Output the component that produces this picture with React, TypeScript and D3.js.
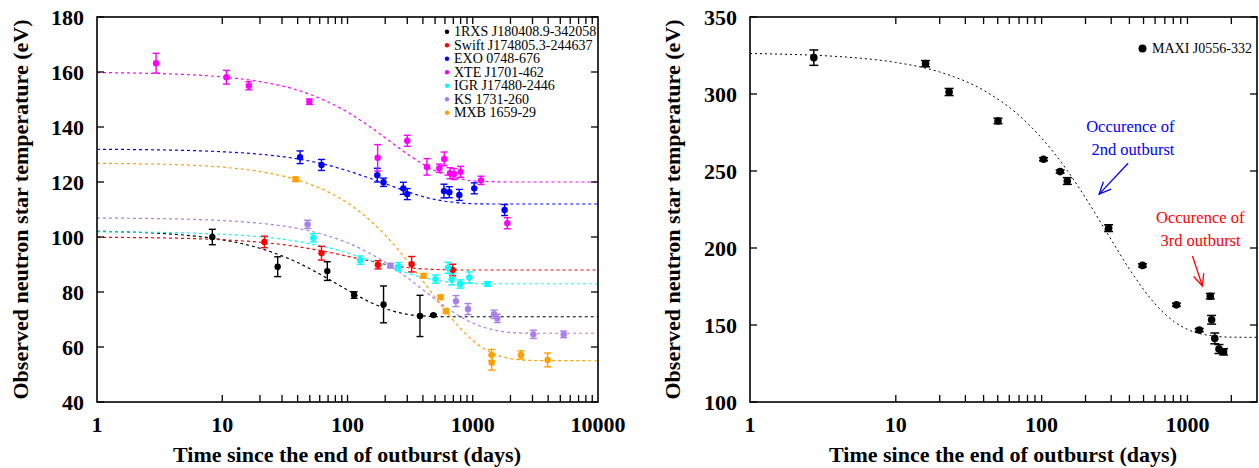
import React from "react";
import * as d3 from "d3";

// ---------- Left panel data ----------
const leftNames = [
  "1RXS J180408.9-342058",
  "Swift J174805.3-244637",
  "EXO 0748-676",
  "XTE J1701-462",
  "IGR J17480-2446",
  "KS 1731-260",
  "MXB 1659-29",
];
const leftColors = ["#000000", "#ff0000", "#0000ff", "#ff00ff", "#00ffff", "#a97ff0", "#ff9f00"];

const rxsTime = [8.33, 27.7, 69, 113, 194, 379, 485];
const rxsTemp = [100, 89.2, 87.6, 78.9, 75.5, 71.3, 71.6];
const rxsErr = [2.8, 3.6, 3.4, 1.2, 6.7, 7.5, 0.3];

const swiftTime = [21.7, 62, 175, 325, 691];
const swiftTemp = [98.2, 94.1, 89.9, 90.1, 88];
const swiftErr = [2.1, 2.5, 1.5, 2.8, 2.1];

const exoTime = [41.8, 62, 173, 194, 279, 300, 589, 650, 781, 1028, 1796];
const exoTemp = [129, 126.2, 122.5, 119.9, 117.7, 115.6, 116.7, 116.3, 115.3, 117.7, 109.8];
const exoErr = [2.3, 2, 2.5, 1.5, 2.2, 2, 2.5, 2, 2, 2, 2];

const xteTime = [2.96, 10.8, 16.3, 49.6, 174, 300, 431, 541, 592, 658, 708, 800, 1164, 1888];
const xteTemp = [163.2, 158.1, 155, 149.2, 128.8, 135, 125.5, 125, 128.4, 123.2, 122.9, 123.7, 120.6, 105];
const xteErr = [3.6, 2.5, 1.5, 1, 4.8, 2, 3, 1.5, 2.5, 2, 2, 2, 1.5, 2];

const igrTime = [53.3, 126, 255, 503, 634, 678, 791, 939, 1309];
const igrTemp = [99.7, 91.6, 89.2, 84.7, 88.8, 84.6, 82.9, 85.3, 82.9];
const igrErr = [1.5, 1.5, 1.5, 1.5, 2, 2, 1.5, 2, 0.8];

const ksTime = [48, 220, 734, 916, 1479, 1571, 3046, 5320];
const ksTemp = [104.6, 89.6, 76.7, 73.8, 71.9, 70.4, 64.6, 64.6];
const ksErr = [1.5, 0.8, 2, 2, 1.5, 1.5, 1.5, 1.2];

const mxbTime = [38.5, 405, 554, 611, 1416, 1416, 2427, 3963];
const mxbTemp = [121, 85.9, 78.1, 73, 57.1, 54.3, 57.1, 55.3];
const mxbErr = [0.8, 0.8, 0.8, 0.8, 2, 2.7, 1.5, 2.5];

// fitted cooling curves
const leftFitTime = [1, 5, 10, 20, 40, 70, 100, 150, 200, 300, 400, 600, 800, 1000, 1500, 2000, 3000, 10000];
const rxsFit = [102.1, 100.7, 99.0, 95.9, 90.7, 84.8, 80.7, 76.4, 74.0, 71.9, 71.3, 71.0, 71.0, 71.0, 71.0, 71.0, 71.0, 71.0];
const swiftFit = [99.9, 99.5, 99.0, 98.1, 96.5, 94.5, 93.0, 91.3, 90.1, 88.9, 88.4, 88.1, 88.0, 88, 88, 88, 88, 88];
const exoFit = [131.9, 131.5, 131.0, 130.1, 128.4, 126.1, 124.1, 121.4, 119.4, 116.5, 114.7, 113.0, 112.4, 112.1, 112, 112, 112, 112];
const xteFit = [159.8, 159.1, 158.2, 156.5, 153.4, 149.1, 145.4, 140.2, 136.1, 130.2, 126.5, 122.6, 121.1, 120.4, 120.1, 120, 120, 120];
const igrFit = [101.9, 101.5, 101.0, 100.1, 98.4, 96.1, 94.2, 91.6, 89.6, 86.9, 85.3, 83.8, 83.3, 83.1, 83.0, 83, 83, 83];
const ksFit = [106.9, 106.5, 106.0, 105.0, 103.1, 100.4, 97.9, 94.1, 90.8, 85.2, 80.8, 74.7, 71.0, 68.7, 66.1, 65.3, 65.0, 65];
const mxbFit = [126.8, 126.2, 125.4, 123.8, 120.7, 116.4, 112.4, 106.2, 100.7, 91.4, 84.0, 73.4, 66.7, 62.4, 57.4, 55.8, 55.1, 55];

const leftTimes = [rxsTime, swiftTime, exoTime, xteTime, igrTime, ksTime, mxbTime];
const leftTemps = [rxsTemp, swiftTemp, exoTemp, xteTemp, igrTemp, ksTemp, mxbTemp];
const leftErrs = [rxsErr, swiftErr, exoErr, xteErr, igrErr, ksErr, mxbErr];
const leftFits = [rxsFit, swiftFit, exoFit, xteFit, igrFit, ksFit, mxbFit];

const leftXTickLabels = ["1", "10", "100", "1000", "10000"];
const leftYTicks = [40, 60, 80, 100, 120, 140, 160, 180];

// ---------- Right panel data ----------
const maxiName = "MAXI J0556-332";
const maxiTime = [2.74, 16, 23.2, 50.2, 103, 134, 150, 288, 492, 840, 1205, 1435, 1465, 1540, 1645, 1770];
const maxiTemp = [323.6, 319.7, 301.3, 282.5, 257.6, 249.6, 243.5, 212.9, 188.7, 163.1, 146.7, 168.7, 153.4, 141.3, 134.4, 132.6];
const maxiErr = [5, 2, 2.3, 1.8, 1, 1, 2.2, 2.2, 1, 1, 1, 1.8, 2.8, 3.5, 2.9, 2];
const maxiFitTime = [1, 3, 5, 10, 20, 40, 70, 100, 150, 200, 300, 400, 600, 800, 1000, 1500, 2000, 3000];
const maxiFit = [326.3, 325.0, 323.7, 320.5, 314.3, 302.4, 286.1, 271.4, 250.3, 232.6, 205.4, 186.3, 163.7, 152.6, 147.2, 142.9, 142.1, 142];
const rightXTickLabels = ["1", "10", "100", "1000"];
const rightYTicks = [100, 150, 200, 250, 300, 350];

const annotSecond = ["Occurence of", "2nd outburst"];
const annotThird = ["Occurence of", "3rd outburst"];

const xTitle = "Time since the end of outburst (days)";
const yTitle = "Observed neutron star temperature (eV)";

const FONT = "'Liberation Serif', 'Times New Roman', Times, serif";

function minorTicks(maxT: number) {
  const out: number[] = [];
  for (let p = 10; p < maxT; p *= 10) {
    for (let k = 1; k <= 9; k++) {
      const v = k * p;
      if (v < maxT) out.push(v);
    }
  }
  return out;
}

function Frame({ x, y, xTickVals, yTickVals, tick }: any) {
  const [x0, x1] = x.range();
  const [y1, y0] = y.range();
  return (
    <g stroke="#000" strokeWidth={1.3}>
      {xTickVals.map((t: number, i: number) => (
        <g key={"xt" + i}>
          <line x1={x(t)} x2={x(t)} y1={y1} y2={y1 - tick} />
          <line x1={x(t)} x2={x(t)} y1={y0} y2={y0 + tick} />
        </g>
      ))}
      {yTickVals.map((v: number, i: number) => (
        <g key={"yt" + i}>
          <line x1={x0} x2={x0 + tick} y1={y(v)} y2={y(v)} />
          <line x1={x1} x2={x1 - tick} y1={y(v)} y2={y(v)} />
        </g>
      ))}
      <rect x={x0} y={y0} width={x1 - x0} height={y1 - y0} fill="none" strokeWidth={1.6} />
    </g>
  );
}

function Points({ x, y, times, temps, errs, color, r, cap, sw }: any) {
  return (
    <g>
      {times.map((t: number, i: number) => {
        const cx = x(t);
        const top = y(temps[i] + errs[i]);
        const bot = y(temps[i] - errs[i]);
        return (
          <g key={i} stroke={color} strokeWidth={sw}>
            <line x1={cx} x2={cx} y1={top} y2={bot} />
            <line x1={cx - cap} x2={cx + cap} y1={top} y2={top} />
            <line x1={cx - cap} x2={cx + cap} y1={bot} y2={bot} />
            <circle cx={cx} cy={y(temps[i])} r={r} fill={color} stroke="none" />
          </g>
        );
      })}
    </g>
  );
}

export default function App() {
  // left panel
  const lx = d3.scaleLog().domain([1, 10000]).range([97, 598]);
  const ly = d3.scaleLinear().domain([40, 180]).range([402, 17]);
  // right panel
  const rx = d3.scaleLog().domain([1, 3000]).range([750, 1257]);
  const ry = d3.scaleLinear().domain([100, 350]).range([402, 17]);

  const leftLine = d3
    .line<[number, number]>()
    .x((d) => lx(d[0]))
    .y((d) => ly(d[1]))
    .curve(d3.curveMonotoneX);
  const rightLine = d3
    .line<[number, number]>()
    .x((d) => rx(d[0]))
    .y((d) => ry(d[1]))
    .curve(d3.curveMonotoneX);

  const leftMinor = minorTicks(10000);
  const rightMinor = minorTicks(3000);

  const tickFont = { fontFamily: FONT, fontWeight: "bold", fontSize: 22 } as any;
  const titleFont = { fontFamily: FONT, fontWeight: "bold", fontSize: 22 } as any;

  // annotation arrow helper
  const arrow = (t0: number, v0: number, t1: number, v1: number, color: string) => {
    const xa = rx(t0), ya = ry(v0), xb = rx(t1), yb = ry(v1);
    const ang = Math.atan2(yb - ya, xb - xa);
    const L = 13, spread = 0.42;
    const p1 = [xb - L * Math.cos(ang - spread), yb - L * Math.sin(ang - spread)];
    const p2 = [xb - L * Math.cos(ang + spread), yb - L * Math.sin(ang + spread)];
    return (
      <g stroke={color} strokeWidth={1.3} fill="none">
        <line x1={xa} y1={ya} x2={xb} y2={yb} />
        <polyline points={`${p1[0]},${p1[1]} ${xb},${yb} ${p2[0]},${p2[1]}`} />
      </g>
    );
  };

  return (
    <svg
      width={1259}
      height={468}
      style={{ position: "absolute", left: 0, top: 0, background: "#fff" }}
    >
      <rect width={1259} height={468} fill="#fff" />

      {/* ===== LEFT PANEL ===== */}
      {leftFits.map((f, i) => (
        <path
          key={"lf" + i}
          d={leftLine(leftFitTime.map((t, j) => [t, f[j]]) as any) || ""}
          fill="none"
          stroke={leftColors[i]}
          strokeWidth={1.2}
          strokeDasharray="3,3"
        />
      ))}
      {leftTimes.map((ts, i) => (
        <Points
          key={"lp" + i}
          x={lx}
          y={ly}
          times={ts}
          temps={leftTemps[i]}
          errs={leftErrs[i]}
          color={leftColors[i]}
          r={3.2}
          cap={3.5}
          sw={1.4}
        />
      ))}
      <Frame x={lx} y={ly} xTickVals={leftMinor} yTickVals={leftYTicks} tick={7} />

      {leftYTicks.map((v) => (
        <text key={"lyl" + v} x={84} y={ly(v)} textAnchor="end" dominantBaseline="central" {...tickFont}>
          {v}
        </text>
      ))}
      {leftXTickLabels.map((s) => (
        <text key={"lxl" + s} x={lx(+s)} y={424} textAnchor="middle" dominantBaseline="central" {...tickFont}>
          {s}
        </text>
      ))}
      <text x={347} y={462} textAnchor="middle" {...titleFont}>
        {xTitle}
      </text>
      <text
        transform={`translate(20,${(17 + 402) / 2}) rotate(-90)`}
        textAnchor="middle"
        dominantBaseline="central"
        {...titleFont}
      >
        {yTitle}
      </text>

      {/* left legend */}
      {leftNames.map((n, i) => (
        <g key={"lg" + i}>
          <circle cx={447} cy={31.7 + i * 13.5} r={2.2} fill={leftColors[i]} />
          <text
            x={454}
            y={31.7 + i * 13.5}
            dominantBaseline="central"
            fontFamily={FONT}
            fontSize={14}
          >
            {n}
          </text>
        </g>
      ))}

      {/* ===== RIGHT PANEL ===== */}
      <path
        d={rightLine(maxiFitTime.map((t, j) => [t, maxiFit[j]]) as any) || ""}
        fill="none"
        stroke="#000"
        strokeWidth={1}
        strokeDasharray="2,3"
      />
      <Points
        x={rx}
        y={ry}
        times={maxiTime}
        temps={maxiTemp}
        errs={maxiErr}
        color="#000"
        r={3.8}
        cap={4.5}
        sw={1.5}
      />
      <Frame x={rx} y={ry} xTickVals={rightMinor} yTickVals={rightYTicks} tick={7} />

      {rightYTicks.map((v) => (
        <text key={"ryl" + v} x={737} y={ry(v)} textAnchor="end" dominantBaseline="central" {...tickFont}>
          {v}
        </text>
      ))}
      {rightXTickLabels.map((s) => (
        <text key={"rxl" + s} x={rx(+s)} y={424} textAnchor="middle" dominantBaseline="central" {...tickFont}>
          {s}
        </text>
      ))}
      <text x={1003} y={462} textAnchor="middle" {...titleFont}>
        {xTitle}
      </text>
      <text
        transform={`translate(672,${(17 + 402) / 2}) rotate(-90)`}
        textAnchor="middle"
        dominantBaseline="central"
        {...titleFont}
      >
        {yTitle}
      </text>

      {/* right legend */}
      <circle cx={1142.5} cy={48.5} r={4} fill="#000" />
      <text x={1152} y={48.5} dominantBaseline="central" fontFamily={FONT} fontSize={14}>
        {maxiName}
      </text>

      {/* annotations */}
      {annotSecond.map((s, i) => (
        <text
          key={"a2" + i}
          x={rx(i === 0 ? 406 : 423)}
          y={ry(i === 0 ? 279.2 : 264.1)}
          textAnchor="middle"
          dominantBaseline="central"
          fontFamily={FONT}
          fontSize={16.5}
          fill="#0000ff"
        >
          {s}
        </text>
      ))}
      {arrow(392, 255, 248, 235, "#0000ff")}
      {annotThird.map((s, i) => (
        <text
          key={"a3" + i}
          x={rx(i === 0 ? 1224 : 1230)}
          y={ry(i === 0 ? 219.9 : 204.7)}
          textAnchor="middle"
          dominantBaseline="central"
          fontFamily={FONT}
          fontSize={16.5}
          fill="#ff0000"
        >
          {s}
        </text>
      ))}
      {arrow(1082, 194.8, 1267, 175.3, "#ff0000")}
    </svg>
  );
}
